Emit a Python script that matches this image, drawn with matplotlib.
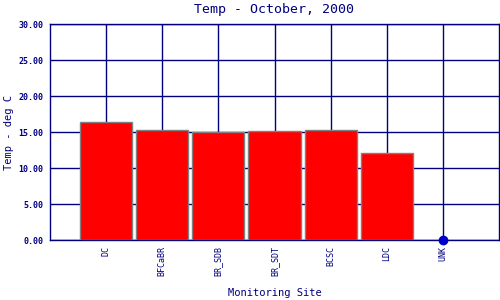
import matplotlib.pyplot as plt
import numpy as np

sites = ['DC', 'BFCaBR', 'BR_SDB', 'BR_SDT', 'BCSC', 'LDC', 'UNK']
temps = [16.35, 15.25, 14.95, 15.07, 15.28, 12.13, 0.0]
yticks = [0, 5, 10, 15, 20, 25, 30]

navy = '#000080'
plt.rcParams['font.family'] = 'DejaVu Sans Mono'

fig = plt.figure(figsize=(5, 3), dpi=100)
ax = fig.add_axes([0.1, 0.2, 0.898, 0.72])

x = np.arange(1, len(sites) + 1)
ax.bar(x[:-1], temps[:-1], width=0.93, color='red', edgecolor='gray',
       linewidth=1, zorder=3)
ax.plot(x[-1], temps[-1], 'o', color='#0000cc', markersize=6, zorder=4,
        clip_on=False)

ax.set_xlim(0, 8)
ax.set_ylim(0, 30)
ax.set_xticks(x)
ax.set_xticklabels(sites, rotation=90, fontsize=6, color=navy)
ax.set_yticks(yticks)
ax.set_yticklabels(['%.2f' % v for v in yticks], fontsize=6, color=navy,
                   fontweight='bold')
ax.tick_params(axis='y', length=0, pad=5)
ax.tick_params(axis='x', length=0, pad=4)
ax.grid(True, color=navy, linewidth=1, zorder=0)
for s in ax.spines.values():
    s.set_color(navy)
    s.set_linewidth(1)

ax.set_title('Temp - October, 2000', fontsize=9.5, color=navy, pad=8)
ax.set_ylabel('Temp - deg C', fontsize=7.5, color=navy, labelpad=3)
ax.set_xlabel('Monitoring Site', fontsize=7.5, color=navy, labelpad=9)

fig.savefig('out.png', dpi=100)
